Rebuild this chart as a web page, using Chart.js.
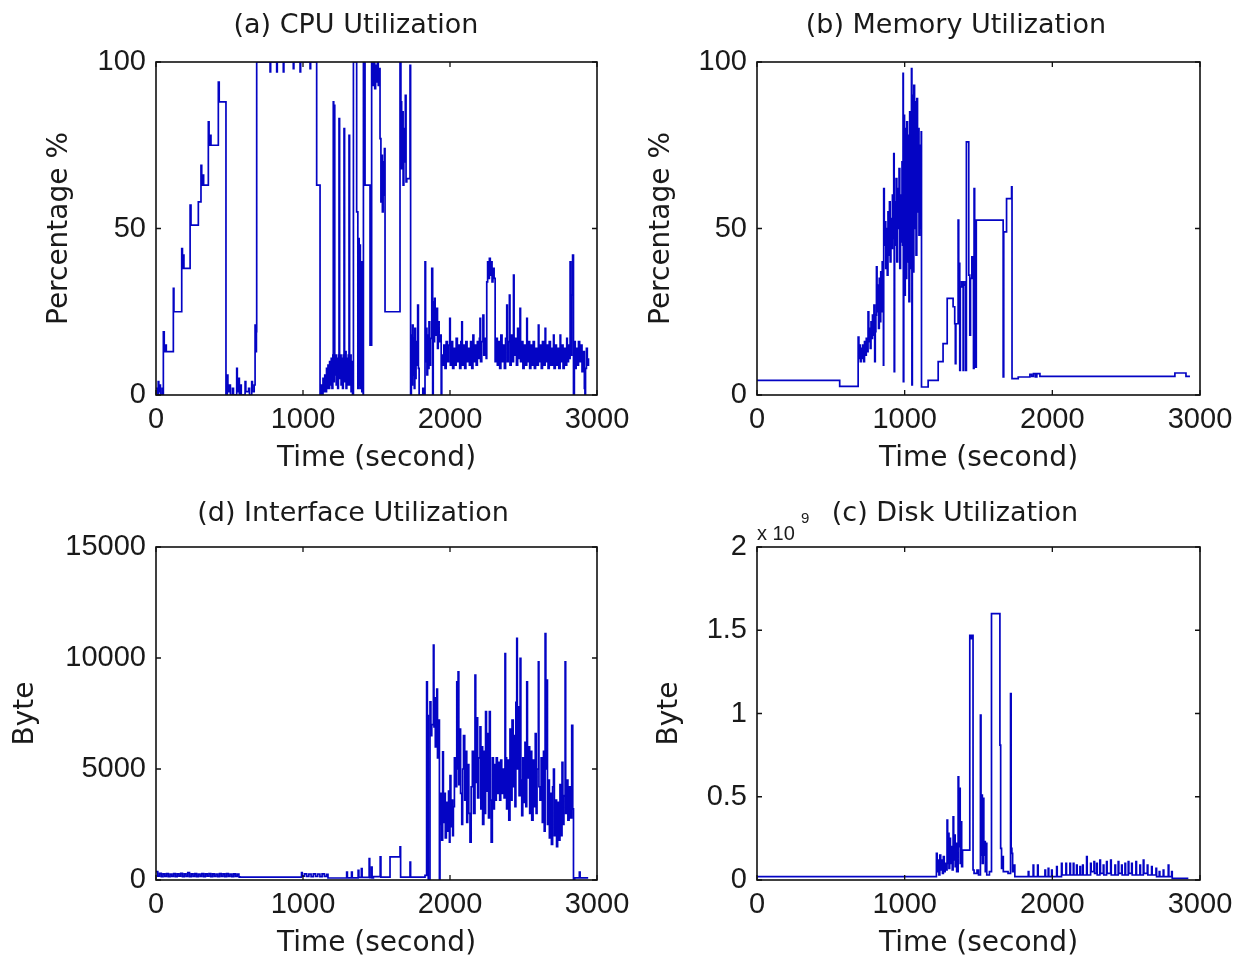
<!DOCTYPE html>
<html>
<head>
<meta charset="utf-8">
<script src="https://cdn.jsdelivr.net/npm/chart.js@4.4.1/dist/chart.umd.min.js"></script>
<style>
  html, body { margin: 0; padding: 0; background: #fff; }
  #wrap { position: relative; width: 1244px; height: 969px; overflow: hidden; }
  #wrap canvas { position: absolute; left: 0; top: 0; }
</style>
</head>
<body>
<div id="wrap">
  <canvas id="cpuChart" width="1244" height="969"></canvas>
  <canvas id="memChart" width="1244" height="969"></canvas>
  <canvas id="ifaceChart" width="1244" height="969"></canvas>
  <canvas id="diskChart" width="1244" height="969"></canvas>
</div>
<script>
// time axis (seconds) shared by all four panels
var timeTicks = [0, 1000, 2000, 3000];
var pctTicks = [0, 50, 100];
var ifaceTicks = [0, 5000, 10000, 15000];
var diskTicks = [0, 0.5, 1, 1.5, 2]; // x 10^9

// [time, percent]
var cpuSamples = [
  [0,2],[8,0],[15,4],[19,1],[24,3],[30,0],[42,2],[46,0],
  [50,19],[56,13],[66,15],[70,13],
  [118,32],[122,25],
  [175,44],[180,38],[184,42],[190,38],
  [232,57],[238,51],
  [288,58],
  [306,69],[311,63],[318,66],[324,63],
  [356,82],[361,75],[368,78],[374,75],
  [424,94],[430,88],
  [476,0],[485,6],[489,1],[500,3],[506,0],[520,2],[527,0],[549,8],[553,1],[562,5],[567,0],[575,3],[580,0],[606,4],[611,1],[630,2],[636,0],[651,4],[656,1],[668,3],
  [674,21],[679,13],[683,19],
  [685,100],[776,97],[780,100],[821,97],[825,100],[866,97],[870,100],[934,98],[938,100],[980,97],[984,100],[1048,98],[1052,100],
  [1093,63],[1116,0],
  [1124,3],[1130,0],[1136,5],[1142,1],[1148,6],[1154,1],[1160,8],[1165,2],[1170,9],[1175,2],[1181,10],[1186,3],[1192,11],[1197,2],[1203,12],[1206,88],[1209,4],[1213,87],[1216,6],[1221,12],[1226,3],[1231,11],[1236,2],[1241,12],[1245,83],[1249,5],[1254,12],[1259,3],[1264,11],[1269,2],[1274,12],[1279,80],[1283,4],[1288,13],[1293,2],[1298,11],[1303,3],[1308,12],[1313,78],[1317,3],[1322,12],[1327,1],[1332,10],[1337,0],
  [1343,100],[1365,55],[1373,2],[1378,47],[1382,3],[1386,45],[1390,2],[1395,40],[1400,1],[1405,30],[1409,0],
  [1411,100],[1422,63],[1456,15],[1467,100],[1475,93],[1480,100],[1488,92],[1494,99],[1500,94],[1506,100],[1512,93],[1518,98],
  [1524,77],[1530,58],[1535,72],[1540,55],[1545,70],[1550,60],[1554,74],
  [1558,25],[1660,100],[1666,88],[1671,68],[1676,85],[1681,63],[1686,80],[1691,70],[1696,90],[1701,64],
  [1706,65],[1728,99],[1732,0],
  [1737,18],[1741,3],[1745,21],[1749,6],[1753,17],[1757,2],[1761,20],[1765,5],[1769,16],[1774,9],[1780,27],[1785,8],[1790,0],[1815,2],[1822,0],
  [1830,40],[1834,10],[1839,20],[1843,6],[1848,18],[1852,8],[1857,22],[1862,9],[1868,17],[1876,38],[1882,0],[1886,28],[1890,16],[1895,29],[1899,18],[1904,24],[1910,26],[1915,14],[1920,22],[1926,16],[1932,18],[1940,0],
  [1944,12],[1950,9],[1958,15],[1966,8],[1974,16],[1982,10],[1990,15],[1998,23],[2002,9],[2010,16],[2018,8],[2026,14],[2034,9],[2042,17],[2050,10],[2058,15],[2066,8],[2074,16],[2080,22],[2084,9],[2092,15],[2100,8],[2108,16],[2116,10],[2124,14],[2132,9],[2140,16],[2148,8],[2156,18],[2162,10],[2170,15],[2178,9],[2186,16],[2194,11],[2200,17],[2204,23],[2208,10],[2216,16],[2224,24],[2230,12],[2238,17],[2246,11],
  [2250,34],[2256,40],[2262,35],[2268,41],[2274,36],[2280,40],[2286,34],[2292,38],[2300,35],[2307,10],
  [2314,17],[2322,9],[2330,16],[2338,8],[2346,18],[2354,10],[2362,15],[2370,8],[2378,17],[2386,27],[2390,10],
  [2396,16],[2404,30],[2408,9],[2416,18],[2424,10],[2432,36],[2436,12],[2444,17],[2452,9],[2460,20],[2468,11],[2476,26],[2480,10],
  [2488,16],[2496,8],[2504,15],[2512,9],[2522,23],[2526,10],[2534,16],[2542,8],[2550,15],[2558,9],[2566,16],[2574,8],[2582,14],[2590,9],[2601,21],[2605,10],[2613,15],[2621,8],[2629,16],[2637,9],[2647,20],[2651,10],[2659,15],[2667,8],[2675,16],[2683,9],[2691,14],[2698,9],[2704,18],[2708,8],[2716,15],[2724,9],[2732,14],[2740,8],[2749,18],[2753,10],[2761,15],[2769,8],[2777,14],[2785,9],[2794,17],[2798,10],[2806,15],[2812,11],
  [2817,40],[2822,12],[2828,30],[2834,42],[2840,0],[2846,16],[2852,8],[2858,14],[2866,9],[2874,16],[2882,10],[2890,15],[2898,7],[2906,13],[2914,2],[2918,0],[2922,8],[2928,14],[2934,9],[2942,11]
];

// [time, percent]
var memSamples = [
  [0,4.4],[560,2.6],[685,17.4],[690,11],[695,15],[700,10],[705,14],[710,11],[716,15],[722,10],[728,16],[734,12],[740,17],[746,13],
  [752,25],[757,16],[762,20],[767,14],[772,22],[777,17],[782,24],[787,18],[792,27],[797,10],[801,19],[805,24],
  [809,38.5],[813,25],[818,33],[823,20],[828,35],[833,22],[838,37],[843,25],[848,40],[853,28],
  [856,9],[858,62],[862,45],[867,52],[872,38],[877,50],[882,36],[887,55],[892,42],[897,58],[902,40],[907,53],[912,44],[917,60],[922,47],
  [926,72.5],[929,7],[932,58],[937,45],[942,65],[947,40],[952,62],[957,50],[962,68],[967,38],[972,60],[977,46],[982,70],[986,45],
  [989,96.6],[991,4],[994,84],[999,30],[1004,80],[1009,35],[1014,82],[1019,40],[1024,78],[1029,28],[1034,85],[1039,38],[1043,70],
  [1046,98],[1049,3],[1052,90],[1057,37],[1062,93],[1067,50],[1072,88],[1077,42],[1082,89],[1087,55],[1092,80],[1097,48],[1102,75],[1107,50],[1112,79],
  [1114,2.4],[1159,4.4],[1227,10],[1260,15.4],
  [1288,29],[1328,26.5],[1339,21.4],[1343,9.4],[1347,21.4],[1362,52.5],[1366,39.5],[1373,7.4],[1377,32.5],[1385,34],[1396,7.4],[1400,33],[1408,34],[1414,7.4],[1418,76],[1430,76],[1434,36],[1441,18],[1446,35],[1455,41.5],[1466,8],[1470,62],[1474,41.5],[1480,8.4],[1485,52.5],
  [1667,5.4],[1671,49],[1690,59],[1724,62.5],[1727,4.9],[1769,5.4],[1848,6.2],[1860,5.6],[1872,6.4],[1885,5.4],[1895,6.4],[1916,5.6],[2830,6.6],[2905,5.6],[2932,5.6]
];

// [time, bytes]
var ifaceSamples = [
  [0,380],[12,170],[24,300],[36,150],[48,280],[60,160],[72,290],[84,150],[96,270],[108,160],[120,290],[132,150],[144,280],[156,170],[168,300],[180,150],[192,280],[204,160],[216,330],[228,150],[240,280],[252,160],[264,290],[276,150],[288,270],[300,160],[312,290],[324,150],[336,280],[348,170],[360,290],[372,150],[384,280],[396,160],[408,270],[420,150],[432,290],[444,160],[456,280],[468,150],[480,290],[492,160],[504,270],[516,150],[528,280],[540,160],[552,270],[564,140],
  [570,130],[990,330],[995,170],[1010,280],[1025,160],[1040,270],[1055,150],[1070,280],[1085,160],[1100,270],[1115,150],[1130,280],[1145,160],[1160,260],[1170,90],
  [1297,360],[1302,100],[1330,360],[1335,100],[1375,435],[1380,120],[1397,510],[1402,120],[1450,960],[1454,110],[1466,585],[1470,100],[1479,150],[1525,1040],[1530,130],[1592,1040],[1649,1040],[1660,1490],[1664,130],[1728,810],[1732,130],[1830,210],
  [1841,8930],[1846,6200],[1850,7400],[1852,0],[1864,8030],[1870,6500],[1876,7000],[1887,10580],[1891,6900],[1896,8200],[1900,6000],[1905,7500],[1910,8600],[1915,5500],[1920,7200],[1928,0],
  [1932,2500],[1938,3900],[1944,1800],[1950,5770],[1955,2600],[1962,3900],[1968,1900],[1975,3500],[1982,2200],[1990,4000],[1996,1700],[2000,4700],[2006,2400],[2012,3600],[2018,2000],[2023,3300],
  [2030,5500],[2038,4200],[2046,8930],[2050,5000],[2055,9380],[2060,4300],[2066,6800],[2072,3900],[2080,2500],[2086,5000],[2092,6500],[2100,3600],[2106,5800],[2114,2600],[2120,5200],[2128,3000],[2136,1700],
  [2144,4200],[2152,5800],[2160,3000],[2170,9230],[2175,4400],[2182,7300],[2188,3700],[2196,5500],[2204,6900],[2210,3200],[2215,6000],[2222,2500],[2230,5800],[2236,3000],[2242,7580],[2248,4000],[2255,6600],[2262,2800],[2268,7580],[2274,3600],[2280,1700],[2288,5500],[2295,3200],
  [2302,5200],[2308,3600],[2315,5500],[2322,3900],[2330,5300],[2338,3600],[2345,5400],[2352,3900],[2360,5000],[2368,3700],[2374,10200],[2378,5500],[2385,3200],[2392,5400],
  [2400,2700],[2408,6800],[2415,3600],[2422,7200],[2430,4200],[2436,6500],[2442,3300],[2448,8000],[2454,10880],[2458,5000],[2464,7800],[2470,3800],[2477,9980],[2482,4500],[2488,2900],
  [2495,5500],[2502,3500],[2510,6200],[2516,3300],[2522,8930],[2527,4600],[2535,6000],[2542,3000],[2550,5800],[2556,2700],[2565,5400],[2572,3300],[2580,6600],[2586,3000],[2592,5000],[2601,9830],[2605,4200],[2612,3600],[2620,5500],[2628,2600],[2636,5800],[2641,2200],
  [2647,11100],[2652,5000],[2658,9000],[2663,2500],[2670,4500],[2676,1900],[2684,3900],[2690,1600],[2698,4200],[2704,5000],[2710,2000],[2718,3600],[2725,1500],[2732,3500],[2740,1800],[2748,4300],[2755,2000],[2762,5300],[2768,2500],[2775,3800],
  [2783,9830],[2787,3000],[2795,4500],[2802,2700],[2810,4200],[2817,2800],[2828,6970],[2835,3200],[2840,0],[2848,100],[2880,360],[2885,100],[2940,100]
];

// [time, bytes x 10^9]
var diskSamples = [
  [0,0.02],[1215,0.16],[1220,0.05],[1226,0.12],[1232,0.03],[1238,0.15],[1244,0.06],[1250,0.12],[1256,0.04],[1262,0.14],[1268,0.05],[1274,0.1],[1280,0.06],
  [1287,0.36],[1291,0.1],[1296,0.28],[1300,0.07],[1305,0.25],[1310,0.1],[1316,0.2],[1322,0.06],
  [1328,0.38],[1332,0.12],[1338,0.27],[1342,0.08],[1347,0.22],[1352,0.05],
  [1362,0.62],[1366,0.2],[1372,0.55],[1376,0.1],[1381,0.35],[1386,0.08],[1392,0.18],
  [1396,0.18],[1441,1.47],[1446,1.45],[1450,1.47],[1455,1.45],[1460,1.47],[1463,0.06],[1470,0.04],[1490,0.06],[1500,0.03],
  [1513,0.99],[1517,0.15],[1522,0.51],[1526,0.1],[1532,0.49],[1536,0.15],[1541,0.23],[1546,0.05],[1552,0.22],[1556,0.03],[1574,0.05],
  [1588,1.6],[1645,0.81],[1650,0.19],[1656,0.07],[1662,0.14],[1668,0.05],[1700,0.04],
  [1717,1.12],[1721,0.19],[1726,0.16],[1731,0.05],[1742,0.09],[1746,0.02],
  [1837,0.05],[1841,0.02],[1870,0.09],[1874,0.02],[1900,0.09],[1904,0.02],[1950,0.06],[1954,0.02],[1972,0.07],[1976,0.02],[1995,0.06],[1999,0.02],[2029,0.08],[2033,0.02],[2062,0.1],[2066,0.03],[2092,0.1],[2096,0.03],[2119,0.1],[2123,0.03],[2142,0.1],[2146,0.03],[2164,0.09],[2168,0.03],[2187,0.08],[2191,0.03],[2205,0.09],[2209,0.03],[2232,0.14],[2236,0.03],[2259,0.1],[2263,0.05],[2282,0.11],[2286,0.04],[2300,0.1],[2304,0.03],[2322,0.12],[2326,0.04],[2345,0.09],[2349,0.03],[2367,0.11],[2371,0.04],[2395,0.12],[2399,0.03],[2424,0.09],[2428,0.03],[2446,0.11],[2450,0.04],[2469,0.09],[2473,0.03],[2492,0.1],[2496,0.03],[2514,0.11],[2518,0.04],[2537,0.1],[2541,0.03],[2566,0.11],[2570,0.03],[2593,0.09],[2597,0.03],[2616,0.12],[2620,0.04],[2643,0.09],[2647,0.03],[2672,0.08],[2676,0.03],[2702,0.07],[2706,0.02],[2724,0.05],[2728,0.02],[2751,0.06],[2755,0.02],[2785,0.09],[2789,0.02],[2808,0.05],[2812,0.01],[2921,0.01]
];

var lineColor = '#0404c4';
var textColor = '#1a1a1a';
var tickFont = { family: '"Liberation Sans", Arial, sans-serif', size: 29 };
var labelFont = { family: '"DejaVu Sans", sans-serif', size: 28 };

// draws the matlab style box, inward ticks on all sides and the panel title
function boxPlugin(title, titleX, titleY, extra) {
    return {
        id: 'matlabBox',
        afterDatasetsDraw: function (chart) {
            var ctx = chart.ctx, a = chart.chartArea;
            var xs = chart.scales.x, ys = chart.scales.y;
            ctx.save();
            ctx.strokeStyle = '#111';
            ctx.lineWidth = 1.6;
            ctx.strokeRect(a.left, a.top, a.right - a.left, a.bottom - a.top);
            ctx.lineWidth = 1.3;
            ctx.beginPath();
            xs.ticks.forEach(function (t) {
                var px = xs.getPixelForValue(t.value);
                ctx.moveTo(px, a.bottom); ctx.lineTo(px, a.bottom - 5);
                ctx.moveTo(px, a.top); ctx.lineTo(px, a.top + 5);
            });
            ys.ticks.forEach(function (t) {
                var py = ys.getPixelForValue(t.value);
                ctx.moveTo(a.left, py); ctx.lineTo(a.left + 5, py);
                ctx.moveTo(a.right, py); ctx.lineTo(a.right - 5, py);
            });
            ctx.stroke();

            ctx.fillStyle = textColor;
            ctx.font = '27px "DejaVu Sans", sans-serif';
            ctx.textAlign = 'center';
            ctx.textBaseline = 'alphabetic';
            ctx.fillText(title, titleX, titleY);
            if (extra) extra(ctx, a);
            ctx.restore();
        }
    };
}

function makePanel(id, p) {
    var ctx = document.getElementById(id).getContext('2d');
    return new Chart(ctx, {
        type: 'line',
        data: {
            datasets: [{
                data: p.samples.map(function (s) { return { x: s[0], y: s[1] }; }),
                borderColor: lineColor,
                borderWidth: 1.7,
                pointRadius: 0,
                stepped: true,
                fill: false
            }]
        },
        options: {
            responsive: false,
            animation: false,
            devicePixelRatio: 1,
            layout: { padding: p.pad },
            plugins: { legend: { display: false }, tooltip: { enabled: false } },
            scales: {
                x: {
                    type: 'linear',
                    min: 0,
                    max: 3000,
                    afterBuildTicks: function (scale) {
                        scale.ticks = timeTicks.map(function (v) { return { value: v }; });
                    },
                    ticks: {
                        padding: 8,
                        maxRotation: 0,
                        autoSkip: false,
                        color: textColor,
                        font: tickFont,
                        callback: function (v) { return String(v); }
                    },
                    grid: { display: false, drawTicks: false },
                    border: { display: false },
                    title: {
                        display: true,
                        text: 'Time (second)',
                        color: textColor,
                        font: labelFont,
                        padding: { top: 0, bottom: 8 }
                    },
                    afterFit: function (scale) {
                        scale.height = 89;
                        scale.paddingLeft = 0;
                        scale.paddingRight = 0;
                    }
                },
                y: {
                    type: 'linear',
                    min: p.yTicks[0],
                    max: p.yTicks[p.yTicks.length - 1],
                    afterBuildTicks: function (scale) {
                        scale.ticks = p.yTicks.map(function (v) { return { value: v }; });
                    },
                    ticks: {
                        padding: 10,
                        color: textColor,
                        font: tickFont,
                        callback: function (v) { return String(v); }
                    },
                    grid: { display: false, drawTicks: false },
                    border: { display: false },
                    title: {
                        display: true,
                        text: p.yLabel,
                        color: textColor,
                        font: labelFont,
                        padding: { top: p.yTitlePad, bottom: 0 }
                    },
                    afterFit: function (scale) {
                        scale.width = p.yWidth;
                        scale.paddingTop = 0;
                        scale.paddingBottom = 0;
                    }
                }
            }
        },
        plugins: [boxPlugin(p.title, p.titleX, p.titleY, p.extra)]
    });
}

makePanel('cpuChart', {
    samples: cpuSamples, yTicks: pctTicks, yLabel: 'Percentage %',
    pad: { left: 0, top: 62, right: 647, bottom: 485 }, yWidth: 156, yTitlePad: 43,
    title: '(a) CPU Utilization', titleX: 356, titleY: 33
});

makePanel('memChart', {
    samples: memSamples, yTicks: pctTicks, yLabel: 'Percentage %',
    pad: { left: 622, top: 62, right: 44, bottom: 485 }, yWidth: 135, yTitlePad: 23,
    title: '(b) Memory Utilization', titleX: 956, titleY: 33
});

makePanel('ifaceChart', {
    samples: ifaceSamples, yTicks: ifaceTicks, yLabel: 'Byte',
    pad: { left: 0, top: 547, right: 647, bottom: 0 }, yWidth: 156, yTitlePad: 9,
    title: '(d) Interface Utilization', titleX: 353, titleY: 521
});

makePanel('diskChart', {
    samples: diskSamples, yTicks: diskTicks, yLabel: 'Byte',
    pad: { left: 622, top: 547, right: 44, bottom: 0 }, yWidth: 135, yTitlePad: 31,
    title: '(c) Disk Utilization', titleX: 955, titleY: 521,
    extra: function (ctx, a) {
        // exponent label above the y axis
        ctx.textAlign = 'left';
        ctx.font = '20px "Liberation Sans", Arial, sans-serif';
        ctx.fillText('x 10', a.left, a.top - 7);
        ctx.font = '15px "Liberation Sans", Arial, sans-serif';
        ctx.fillText('9', a.left + 44, a.top - 24);
    }
});
</script>
</body>
</html>
